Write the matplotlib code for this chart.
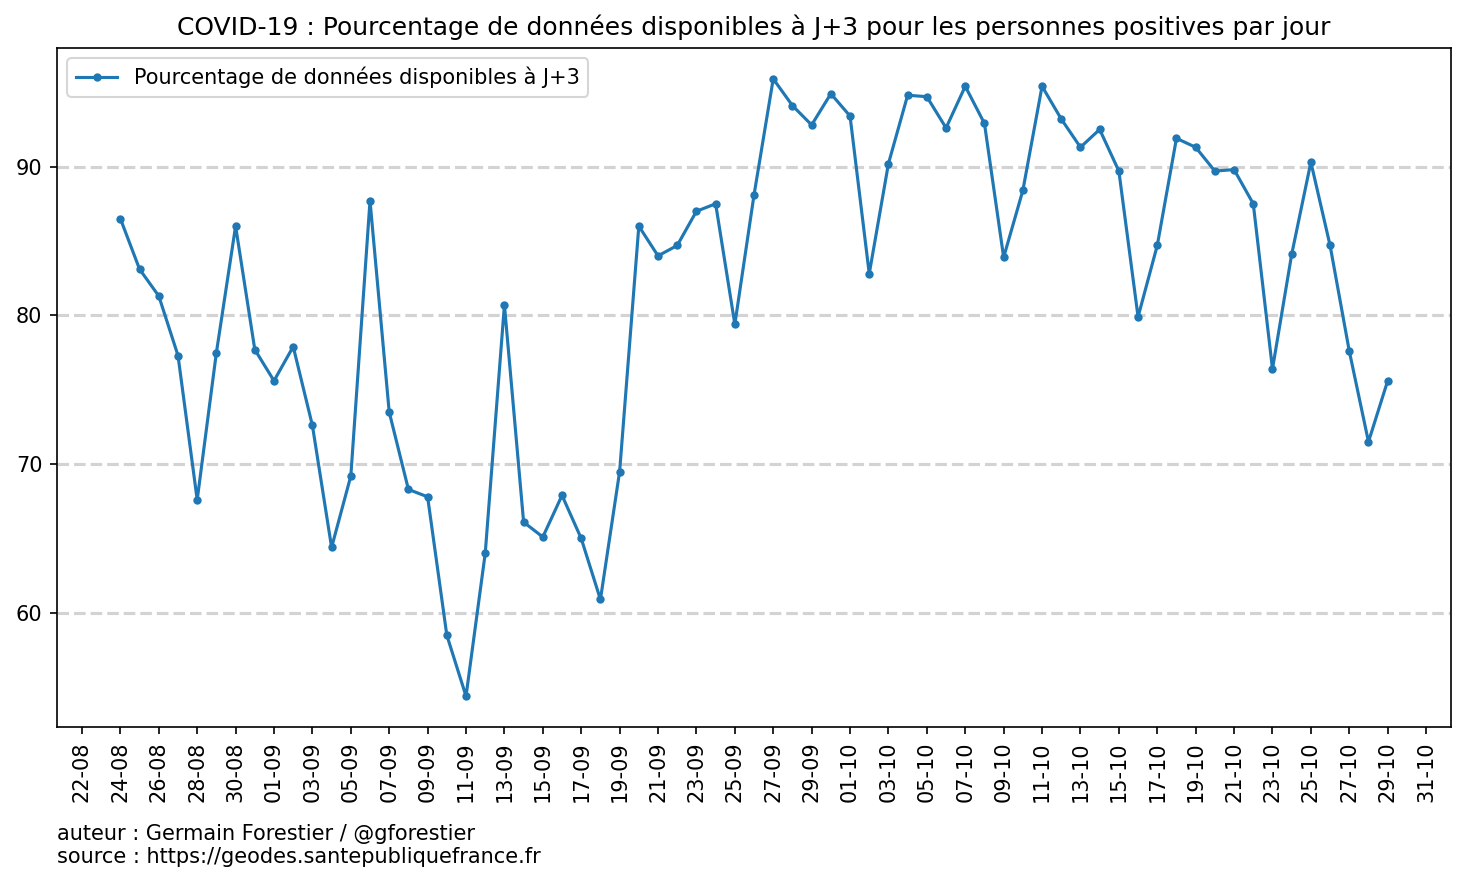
import pandas as pd
import matplotlib
matplotlib.use("Agg")
import matplotlib.pyplot as plt
import matplotlib.dates as mdates

# daily dates 24-08 -> 29-10 (2020)
dates = pd.date_range("2020-08-24", "2020-10-29", freq="D")

# percentage of data available at D+3
pct_aout = [86.5, 83.1, 81.3, 77.3, 67.6, 77.5, 86.0, 77.7]
pct_sept = [75.6, 77.9, 72.6, 64.4, 69.2, 87.7, 73.5, 68.3, 67.8, 58.5,
            54.4, 64.0, 80.7, 66.1, 65.1, 67.9, 65.0, 60.9, 69.5, 86.0,
            84.0, 84.7, 87.0, 87.5, 79.4, 88.1, 95.9, 94.1, 92.8, 94.9]
pct_oct = [93.4, 82.8, 90.2, 94.8, 94.7, 92.6, 95.4, 92.9, 83.9, 88.4,
           95.4, 93.2, 91.3, 92.5, 89.7, 79.9, 84.7, 91.9, 91.3, 89.7,
           89.8, 87.5, 76.4, 84.1, 90.3, 84.7, 77.6, 71.5, 75.6]
pct = pct_aout + pct_sept + pct_oct

tick_dates = pd.date_range("2020-08-22", "2020-10-31", freq="2D")

fig = plt.figure(figsize=(1466 / 150, 882 / 150), dpi=150)
ax = fig.add_subplot(111)
fig.subplots_adjust(left=0.0389, right=0.9898, top=0.9456, bottom=0.1757)

ax.plot(dates, pct, marker=".", label="Pourcentage de données disponibles à J+3")
ax.grid(axis="y", linestyle="--", color="lightgray", linewidth=1.5)
ax.set_axisbelow(True)

ax.set_xticks(tick_dates)
ax.xaxis.set_major_formatter(mdates.DateFormatter("%d-%m"))
plt.setp(ax.get_xticklabels(), rotation=90)

ax.set_title("COVID-19 : Pourcentage de données disponibles à J+3 pour les personnes positives par jour")
ax.legend(loc="upper left")

fig.text(57 / 1466, 1 - 824 / 882,
         "auteur : Germain Forestier / @gforestier\nsource : https://geodes.santepubliquefrance.fr",
         va="top", ha="left", fontsize=10)

fig.savefig("out.png", dpi=150)
